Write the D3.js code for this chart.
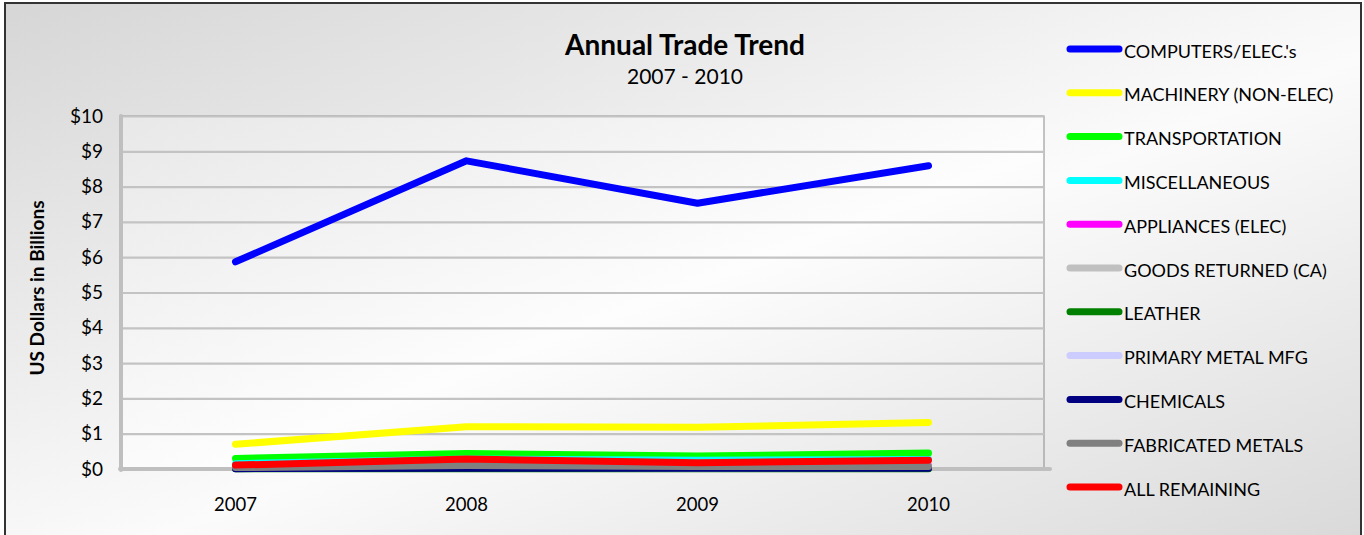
<!DOCTYPE html>
<html><head><meta charset="utf-8">
<script src="https://cdn.jsdelivr.net/npm/d3@7"></script>
<style>
html,body{margin:0;padding:0;background:#fff;}
svg{display:block;font-family:Lato,"Open Sans",sans-serif;}
</style></head>
<body>
<svg id="chart" width="1364" height="535"></svg>
<script>
const years = ["2007","2008","2009","2010"];
const seriesNames = ["COMPUTERS/ELEC.'s","MACHINERY (NON-ELEC)","TRANSPORTATION","MISCELLANEOUS","APPLIANCES (ELEC)","GOODS RETURNED (CA)","LEATHER","PRIMARY METAL MFG","CHEMICALS","FABRICATED METALS","ALL REMAINING"];
const seriesColors = ["#0000ff","#ffff00","#00ff00","#00ffff","#ff00ff","#c0c0c0","#008000","#ccccff","#000080","#808080","#ff0000"];
const computers = [5.87, 8.73, 7.53, 8.59];
const machinery = [0.70, 1.20, 1.18, 1.32];
const transportation = [0.30, 0.44, 0.37, 0.45];
const miscellaneous = [0.15, 0.28, 0.25, 0.27];
const appliances = [0.06, 0.10, 0.08, 0.09];
const goodsReturned = [0.05, 0.08, 0.06, 0.07];
const leather = [0.01, 0.01, 0.01, 0.01];
const primaryMetal = [0.03, 0.05, 0.03, 0.04];
const chemicals = [0.01, 0.02, 0.02, 0.02];
const fabricatedMetals = [0.04, 0.10, 0.07, 0.07];
const allRemaining = [0.11, 0.28, 0.18, 0.25];
const yTicks = [0,1,2,3,4,5,6,7,8,9,10];
const titleText = "Annual Trade Trend";
const subtitleText = "2007 - 2010";
const yTitle = "US Dollars in Billions";

const seriesValues = [computers, machinery, transportation, miscellaneous, appliances, goodsReturned, leather, primaryMetal, chemicals, fabricatedMetals, allRemaining];
const series = seriesNames.map((n,i)=>({name:n,color:seriesColors[i],values:seriesValues[i]}));

const svg = d3.select("#chart");
const defs = svg.append("defs");
const bg = defs.append("linearGradient").attr("id","bgGrad").attr("x1","0").attr("y1","0").attr("x2","1").attr("y2","1");
bg.append("stop").attr("offset","0").attr("stop-color","#d6d6d6");
bg.append("stop").attr("offset","0.55").attr("stop-color","#fbfbfb");
bg.append("stop").attr("offset","1").attr("stop-color","#d9d9d9");
const pg = defs.append("linearGradient").attr("id","plotGrad").attr("x1","0").attr("y1","0").attr("x2","1").attr("y2","1");
pg.append("stop").attr("offset","0").attr("stop-color","#e8e8e8");
pg.append("stop").attr("offset","0.55").attr("stop-color","#fdfdfd");
pg.append("stop").attr("offset","1").attr("stop-color","#e6e6e6");

// outer background + border
svg.append("rect").attr("x",5).attr("y",3).attr("width",1356).attr("height",540)
  .attr("fill","url(#bgGrad)").attr("stroke","#333").attr("stroke-width",2);

const plot = {left:120, right:1044, top:116, bottom:469};
const x = d3.scaleBand().domain(years).range([plot.left, plot.right]).padding(0);
const xc = d => x(d) + x.bandwidth()/2;
const y = d3.scaleLinear().domain([0,10]).range([plot.bottom, plot.top]);

// plot area
svg.append("rect").attr("x",plot.left).attr("y",plot.top).attr("width",plot.right-plot.left).attr("height",plot.bottom-plot.top)
  .attr("fill","url(#plotGrad)").attr("stroke","#8a8a8a").attr("stroke-width",1);

// gridlines
const grid = svg.append("g").attr("transform",`translate(${plot.left},0)`)
  .call(d3.axisLeft(y).tickValues(yTicks.slice(1)).tickSize(-(plot.right-plot.left)).tickFormat(""));
grid.select(".domain").remove();
grid.selectAll("line").attr("stroke","#c3c3c3").attr("stroke-width",2.2);

// y axis
const ya = svg.append("g").attr("transform",`translate(${plot.left+1},0)`)
  .call(d3.axisLeft(y).tickValues(yTicks).tickSize(0).tickPadding(18).tickFormat(d=>"$"+d));
ya.select(".domain").remove();
ya.selectAll("text").attr("font-size",19).attr("fill","#000").attr("font-family","Lato");
svg.append("line").attr("x1",plot.left+1).attr("x2",plot.left+1).attr("y1",plot.top).attr("y2",plot.bottom+1)
  .attr("stroke","#bfbfbf").attr("stroke-width",4).attr("stroke-linecap","round");

// x axis
const xa = svg.append("g").attr("transform",`translate(0,${plot.bottom})`)
  .call(d3.axisBottom(x).tickSize(0).tickPadding(29));
xa.select(".domain").remove();
xa.selectAll("text").attr("font-size",18.5).attr("fill","#000").attr("font-family","Lato");
svg.append("line").attr("x1",plot.left).attr("x2",plot.right+6).attr("y1",plot.bottom).attr("y2",plot.bottom)
  .attr("stroke","#bfbfbf").attr("stroke-width",4).attr("stroke-linecap","round");

// lines
const line = d3.line().x((d,i)=>xc(years[i])).y(d=>y(d));
svg.append("g").selectAll("path").data(series).join("path")
  .attr("d",d=>line(d.values)).attr("fill","none").attr("stroke",d=>d.color)
  .attr("stroke-width",7).attr("stroke-linecap","round").attr("stroke-linejoin","round");

// title
svg.append("text").attr("x",685).attr("y",55).attr("text-anchor","middle")
  .attr("font-size",28).attr("font-weight","bold").attr("fill","#000").text(titleText);
svg.append("text").attr("x",685).attr("y",84).attr("text-anchor","middle")
  .attr("font-size",21).attr("fill","#000").text(subtitleText);

// y title
svg.append("text").attr("transform","translate(44,288) rotate(-90)").attr("text-anchor","middle")
  .attr("font-size",19).attr("font-weight","bold").attr("fill","#000").text(yTitle);

// legend
const lg = svg.append("g").selectAll("g").data(series).join("g")
  .attr("transform",(d,i)=>`translate(1067,${49 + i*43.8})`);
lg.append("line").attr("x1",3).attr("x2",52).attr("y1",0).attr("y2",0)
  .attr("stroke",d=>d.color).attr("stroke-width",7).attr("stroke-linecap","round");
lg.append("text").attr("x",57).attr("y",8.5).attr("font-size",18).attr("fill","#000").text(d=>d.name);
</script>
</body></html>
